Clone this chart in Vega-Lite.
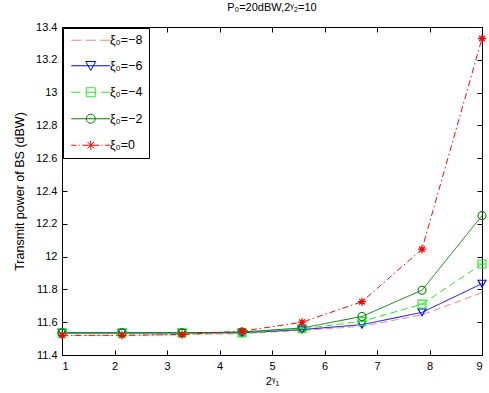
{
  "$schema": "https://vega.github.io/schema/vega-lite/v6.json",
  "width": 420,
  "height": 328,
  "autosize": {"type": "none"},
  "padding": {"left": 62, "top": 27, "right": 7, "bottom": 38},
  "background": "white",
  "config": {
    "font": "Liberation Sans",
    "view": {"stroke": null},
    "axis": {
      "grid": false,
      "domainColor": "black",
      "tickColor": "black",
      "labelColor": "black",
      "titleColor": "black",
      "labelFont": "Liberation Sans",
      "titleFont": "Liberation Sans",
      "labelFontSize": 11,
      "titleFontSize": 11,
      "titleFontWeight": "normal",
      "tickSize": -5,
      "domainWidth": 1,
      "tickWidth": 1
    }
  },
  "title": {"text": "P₀=20dBW,2ᵞ₂=10", "fontSize": 11, "fontWeight": "normal", "font": "Liberation Sans", "color": "black", "offset": 8},
  "data": {
    "values": [
      {"s": "ξ₀=−8", "x": 1, "y": 11.52},
      {"s": "ξ₀=−8", "x": 2.143, "y": 11.52},
      {"s": "ξ₀=−8", "x": 3.286, "y": 11.525},
      {"s": "ξ₀=−8", "x": 4.429, "y": 11.53},
      {"s": "ξ₀=−8", "x": 5.571, "y": 11.55},
      {"s": "ξ₀=−8", "x": 6.714, "y": 11.575},
      {"s": "ξ₀=−8", "x": 7.857, "y": 11.645},
      {"s": "ξ₀=−8", "x": 9, "y": 11.78},
      {"s": "ξ₀=−6", "x": 1, "y": 11.535},
      {"s": "ξ₀=−6", "x": 2.143, "y": 11.535},
      {"s": "ξ₀=−6", "x": 3.286, "y": 11.535},
      {"s": "ξ₀=−6", "x": 4.429, "y": 11.535},
      {"s": "ξ₀=−6", "x": 5.571, "y": 11.555},
      {"s": "ξ₀=−6", "x": 6.714, "y": 11.585},
      {"s": "ξ₀=−6", "x": 7.857, "y": 11.66},
      {"s": "ξ₀=−6", "x": 9, "y": 11.835},
      {"s": "ξ₀=−4", "x": 1, "y": 11.535},
      {"s": "ξ₀=−4", "x": 2.143, "y": 11.535},
      {"s": "ξ₀=−4", "x": 3.286, "y": 11.535},
      {"s": "ξ₀=−4", "x": 4.429, "y": 11.535},
      {"s": "ξ₀=−4", "x": 5.571, "y": 11.56},
      {"s": "ξ₀=−4", "x": 6.714, "y": 11.605},
      {"s": "ξ₀=−4", "x": 7.857, "y": 11.71},
      {"s": "ξ₀=−4", "x": 9, "y": 11.955},
      {"s": "ξ₀=−2", "x": 1, "y": 11.535},
      {"s": "ξ₀=−2", "x": 2.143, "y": 11.535},
      {"s": "ξ₀=−2", "x": 3.286, "y": 11.535},
      {"s": "ξ₀=−2", "x": 4.429, "y": 11.54},
      {"s": "ξ₀=−2", "x": 5.571, "y": 11.565},
      {"s": "ξ₀=−2", "x": 6.714, "y": 11.635},
      {"s": "ξ₀=−2", "x": 7.857, "y": 11.795},
      {"s": "ξ₀=−2", "x": 9, "y": 12.25},
      {"s": "ξ₀=0", "x": 1, "y": 11.52},
      {"s": "ξ₀=0", "x": 2.143, "y": 11.52},
      {"s": "ξ₀=0", "x": 3.286, "y": 11.525},
      {"s": "ξ₀=0", "x": 4.429, "y": 11.545},
      {"s": "ξ₀=0", "x": 5.571, "y": 11.6},
      {"s": "ξ₀=0", "x": 6.714, "y": 11.725},
      {"s": "ξ₀=0", "x": 7.857, "y": 12.045},
      {"s": "ξ₀=0", "x": 9, "y": 13.33}
    ]
  },
  "encoding": {
    "x": {"field": "x", "type": "quantitative", "scale": {"domain": [1, 9], "nice": false, "zero": false}},
    "y": {"field": "y", "type": "quantitative", "scale": {"domain": [11.4, 13.4], "nice": false, "zero": false}},
    "color": {"field": "s", "type": "nominal", "scale": {"domain": ["ξ₀=−8","ξ₀=−6","ξ₀=−4","ξ₀=−2","ξ₀=0"], "range": ["#ff8080","#0000ff","#22ee22","#008000","#ff0000"]}, "legend": null}
  },
  "layer": [
    {
      "mark": {"type": "line", "strokeWidth": 1},
      "encoding": {
        "x": {"field": "x", "type": "quantitative",
              "axis": {"orient": "bottom", "values": [1,2,3,4,5,6,7,8,9], "title": "2ᵞ₁", "labelPadding": 10, "titlePadding": 4}},
        "y": {"field": "y", "type": "quantitative",
              "axis": {"orient": "left", "values": [11.4,11.6,11.8,12,12.2,12.4,12.6,12.8,13,13.2,13.4], "format": ".3~g", "title": "Transmit power of BS (dBW)", "titleFontSize": 12.5, "labelPadding": 10, "titlePadding": 9}},
        "strokeDash": {"field": "s", "type": "nominal", "scale": {"domain": ["ξ₀=−8","ξ₀=−6","ξ₀=−4","ξ₀=−2","ξ₀=0"], "range": [[7,4],[1,0],[7,4],[1,0],[6,3,1.5,3]]}, "legend": null}
      }
    },
    {
      "transform": [{"filter": "datum.s === 'ξ₀=−6'"}],
      "mark": {"type": "point", "filled": false, "size": 64, "strokeWidth": 1.1, "opacity": 1, "shape": "triangle-down"},
      "encoding": {
        "x": {"field": "x", "type": "quantitative", "axis": {"orient": "top", "values": [1,2,3,4,5,6,7,8,9], "labels": false, "title": null}},
        "y": {"field": "y", "type": "quantitative", "axis": {"orient": "right", "values": [11.4,11.6,11.8,12,12.2,12.4,12.6,12.8,13,13.2,13.4], "labels": false, "title": null}}
      }
    },
    {
      "transform": [{"filter": "datum.s === 'ξ₀=−4'"}],
      "mark": {"type": "point", "filled": false, "size": 64, "strokeWidth": 1.1, "opacity": 1, "shape": "M-1,-1H1V1H-1ZM-1,0H1"},
      "encoding": {
        "x": {"field": "x", "type": "quantitative", "axis": null},
        "y": {"field": "y", "type": "quantitative", "axis": null}
      }
    },
    {
      "transform": [{"filter": "datum.s === 'ξ₀=−2'"}],
      "mark": {"type": "point", "filled": false, "size": 64, "strokeWidth": 1.1, "opacity": 1, "shape": "circle"},
      "encoding": {
        "x": {"field": "x", "type": "quantitative", "axis": null},
        "y": {"field": "y", "type": "quantitative", "axis": null}
      }
    },
    {
      "transform": [{"filter": "datum.s === 'ξ₀=0'"}],
      "mark": {"type": "point", "filled": false, "size": 64, "strokeWidth": 1.3, "opacity": 1, "shape": "M-1,0H1M0,-1V1M-0.7,-0.7L0.7,0.7M-0.7,0.7L0.7,-0.7"},
      "encoding": {
        "x": {"field": "x", "type": "quantitative", "axis": null},
        "y": {"field": "y", "type": "quantitative", "axis": null}
      }
    },
    {
      "mark": {"type": "point", "filled": false, "size": 100, "strokeWidth": 1, "opacity": 0},
      "encoding": {
        "x": {"field": "x", "type": "quantitative", "axis": null},
        "y": {"field": "y", "type": "quantitative", "axis": null},
        "color": {"field": "s", "type": "nominal",
                  "scale": {"domain": ["ξ₀=−8","ξ₀=−6","ξ₀=−4","ξ₀=−2","ξ₀=0"], "range": ["#ff8080","#0000ff","#22ee22","#008000","#ff0000"]},
                  "legend": {"title": null, "orient": "top-left", "offset": 1, "padding": 6, "strokeColor": "black", "fillColor": "white", "labelFont": "Liberation Sans", "labelFontSize": 12.5, "labelColor": "black", "symbolSize": 100, "symbolStrokeWidth": 1, "symbolOffset": 15.5, "labelOffset": 13, "rowPadding": 12.5, "symbolOpacity": 1}},
        "shape": {"field": "s", "type": "nominal",
                  "scale": {"domain": ["ξ₀=−8","ξ₀=−6","ξ₀=−4","ξ₀=−2","ξ₀=0"], "range": [
                    "M-3.9,0H-1.9M-1,0H1M1.9,0H3.9",
                    "M-3.9,0H3.9M-1,-0.85L1,-0.85L0,0.95Z",
                    "M-3.9,0H-2.1M-1,0H1M2.1,0H3.9M-0.9,-0.9H0.9V0.9H-0.9Z",
                    "M-3.9,0H3.9M0.9,0A0.9,0.9 0 1,1 -0.9,0A0.9,0.9 0 1,1 0.9,0",
                    "M-3.9,0H-2.9M-2.4,0H-2.2M-1.7,0H1.7M0,-0.9V0.9M-0.65,-0.65L0.65,0.65M-0.65,0.65L0.65,-0.65M2.2,0H2.4M2.9,0H3.9"
                  ]},
                  "legend": {"title": null, "orient": "top-left", "offset": 1, "padding": 6, "strokeColor": "black", "fillColor": "white", "labelFont": "Liberation Sans", "labelFontSize": 12.5, "labelColor": "black", "symbolSize": 100, "symbolStrokeWidth": 1, "symbolOffset": 15.5, "labelOffset": 13, "rowPadding": 12.5, "symbolOpacity": 1}}
      }
    }
  ],
  "resolve": {"scale": {"color": "independent", "shape": "independent"}, "axis": {"x": "independent", "y": "independent"}}
}
